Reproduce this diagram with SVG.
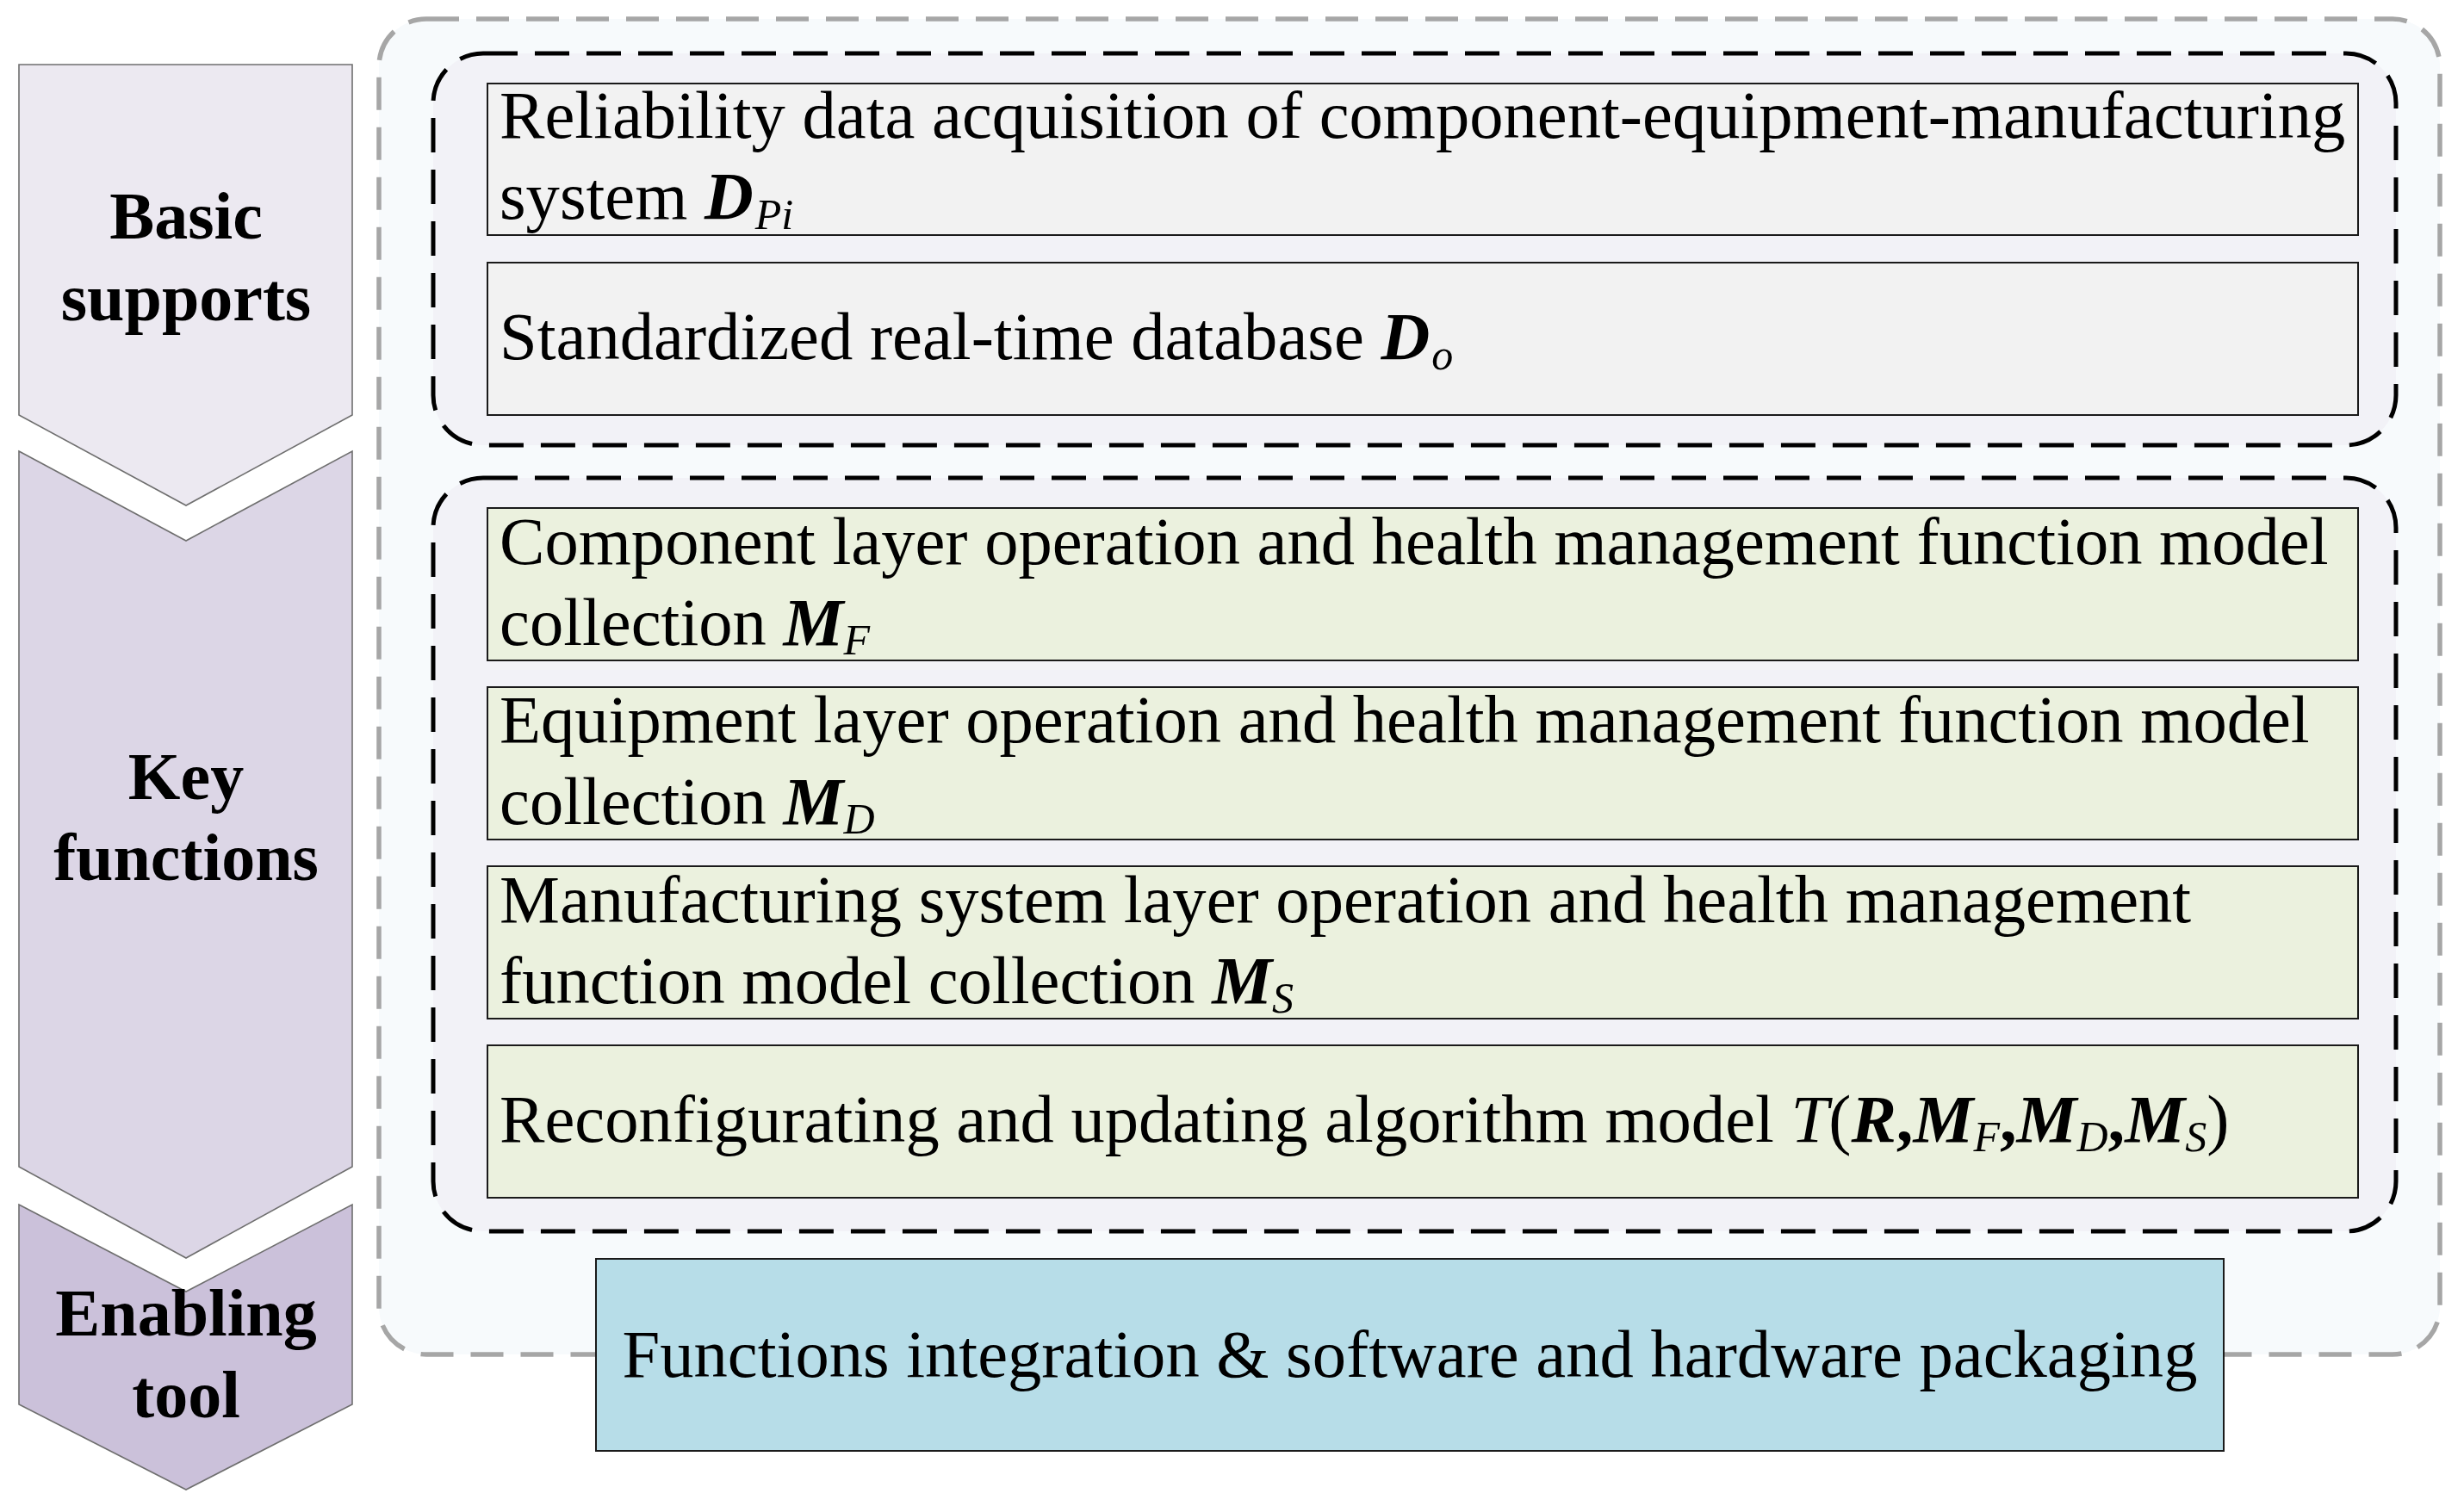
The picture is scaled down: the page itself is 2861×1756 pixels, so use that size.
<svg xmlns="http://www.w3.org/2000/svg" width="2861" height="1756" viewBox="0 0 2861 1756">
<style>
  .chev { stroke: #6f6f6f; stroke-width: 1.6; }
  .lbl { font-family: "Liberation Serif", "Times New Roman", serif; font-weight: bold; font-size: 78px; fill: #000; text-anchor: middle; }
  .txt { font-family: "Liberation Serif", "Times New Roman", serif; font-size: 78.6px; fill: #000; }
  .box { stroke: #1a1a1a; stroke-width: 2; }
  .gray { fill: #F2F2F2; }
  .green { fill: #EBF1DE; }
  .blue { fill: #B7DDE8; }
  .bi { font-weight: bold; font-style: italic; }
  .it { font-style: italic; }
  .sub { font-style: italic; font-size: 50px; }
  .outer { fill: #F7FAFC; stroke: #A6A6A6; stroke-width: 5.5; stroke-dasharray: 38 20; }
  .inner { fill: #F2F2F7; stroke: #000; stroke-width: 5; stroke-dasharray: 40 20; }
</style>
<rect width="2861" height="1756" fill="#FFFFFF"/>

<g id="chevron-basic-supports">
  <polygon class="chev" fill="#ECE9F1" points="22,75 409,75 409,482 216,587 22,482"/>
  <text class="lbl" x="216" y="277">Basic</text>
  <text class="lbl" x="216" y="372">supports</text>
</g>
<g id="chevron-key-functions">
  <polygon class="chev" fill="#DCD6E6" points="22,524 216,628 409,524 409,1355 216,1461 22,1355"/>
  <text class="lbl" x="216" y="928">Key</text>
  <text class="lbl" x="216" y="1022">functions</text>
</g>
<g id="chevron-enabling-tool">
  <polygon class="chev" fill="#CBC1DA" points="22,1399 216,1500 409,1399 409,1631 216,1730 22,1631"/>
  <text class="lbl" x="216" y="1551">Enabling</text>
  <text class="lbl" x="216" y="1646">tool</text>
</g>

<g id="outer-container">
  <rect class="outer" x="440" y="22" width="2393" height="1551" rx="55" ry="55"/>
</g>

<g id="group-basic-supports">
  <rect class="inner" x="503" y="62" width="2279" height="455" rx="58" ry="58"/>
</g>
<g id="group-key-functions">
  <rect class="inner" x="503" y="555" width="2279" height="875" rx="58" ry="58"/>
</g>

<g id="node-reliability-data">
  <rect class="box gray" x="566" y="97" width="2172" height="176"/>
  <text class="txt" x="580" y="160">Reliability data acquisition of component-equipment-manufacturing</text>
  <text class="txt" x="580" y="254">system <tspan class="bi">D</tspan><tspan class="sub" dx="2" dy="12">Pi</tspan></text>
</g>
<g id="node-database">
  <rect class="box gray" x="566" y="305" width="2172" height="177"/>
  <text class="txt" x="580" y="417">Standardized real-time database <tspan class="bi">D</tspan><tspan class="sub" dx="2" dy="12">o</tspan></text>
</g>

<g id="node-component-layer">
  <rect class="box green" x="566" y="590" width="2172" height="177"/>
  <text class="txt" x="580" y="655">Component layer operation and health management function model</text>
  <text class="txt" x="580" y="749">collection <tspan class="bi">M</tspan><tspan class="sub" dy="11">F</tspan></text>
</g>
<g id="node-equipment-layer">
  <rect class="box green" x="566" y="798" width="2172" height="177"/>
  <text class="txt" x="580" y="862">Equipment layer operation and health management function model</text>
  <text class="txt" x="580" y="957">collection <tspan class="bi">M</tspan><tspan class="sub" dy="11">D</tspan></text>
</g>
<g id="node-system-layer">
  <rect class="box green" x="566" y="1006" width="2172" height="177"/>
  <text class="txt" x="580" y="1071">Manufacturing system layer operation and health management</text>
  <text class="txt" x="580" y="1165">function model collection <tspan class="bi">M</tspan><tspan class="sub" dy="11">S</tspan></text>
</g>
<g id="node-reconfiguring">
  <rect class="box green" x="566" y="1214" width="2172" height="177"/>
  <text class="txt" x="580" y="1326">Reconfigurating and updating algorithm model <tspan class="it">T</tspan>(<tspan class="bi">R</tspan><tspan font-weight="bold">,</tspan><tspan class="bi">M</tspan><tspan class="sub" dy="11">F</tspan><tspan font-weight="bold" dy="-11">,</tspan><tspan class="bi">M</tspan><tspan class="sub" dy="11">D</tspan><tspan font-weight="bold" dy="-11">,</tspan><tspan class="bi">M</tspan><tspan class="sub" dy="11">S</tspan><tspan dy="-11">)</tspan></text>
</g>

<g id="node-enabling-tool">
  <rect class="box blue" x="692" y="1462" width="1890" height="223"/>
  <text class="txt" x="1637" y="1599" text-anchor="middle">Functions integration &amp; software and hardware packaging</text>
</g>

<g id="connectors"></g>
</svg>
